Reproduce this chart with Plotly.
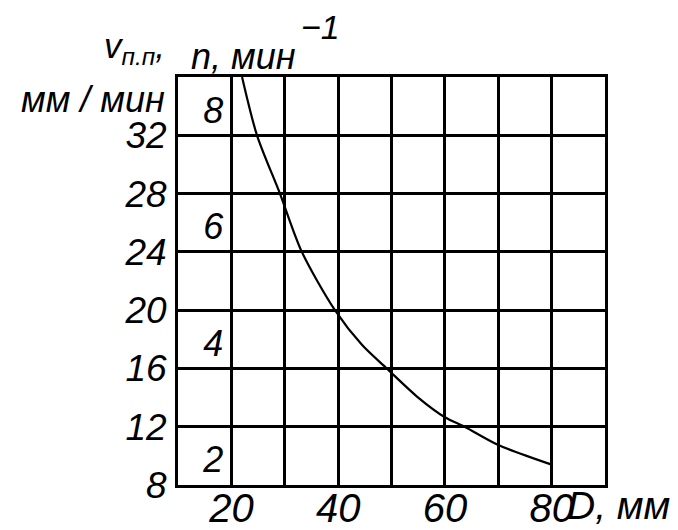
import plotly.graph_objects as go

# Data
D_mm = [22, 24.8, 29.1, 33.2, 39.4, 44.5, 49.1, 55, 60, 63.7, 70, 80]
v_feed = [36, 32, 28, 24, 20, 17.6, 16, 14.0, 12.65, 12, 10.75, 9.4]

x_ticks = [20, 40, 60, 80]
y_ticks = [8, 12, 16, 20, 24, 28, 32]
n_ticks = [2, 4, 6, 8]

FONT = "Liberation Sans, sans-serif"

fig = go.Figure()
fig.add_trace(go.Scatter(
    x=D_mm, y=v_feed, mode="lines",
    line=dict(color="black", width=2.2, shape="spline", smoothing=0.8),
    showlegend=False, hoverinfo="skip",
))
# invisible trace to carry the second (n) axis
fig.add_trace(go.Scatter(x=[D_mm[0]], y=[None], yaxis="y2", mode="lines",
                         showlegend=False, hoverinfo="skip"))

fig.update_layout(
    width=678, height=530,
    margin=dict(l=170, r=81, t=69, b=53, autoexpand=False),
    paper_bgcolor="white", plot_bgcolor="white",
    xaxis=dict(
        range=[10, 90], tickvals=x_ticks, ticks="", automargin=False,
        showgrid=True, gridcolor="black", gridwidth=2.5,
        minor=dict(dtick=10, tick0=10, showgrid=True, gridcolor="black", gridwidth=2.5),
        showline=True, linecolor="black", linewidth=3, mirror=True,
        tickfont=dict(family=FONT, size=40, color="black", style="italic"),
        zeroline=False, ticklabelstandoff=-14,
    ),
    yaxis=dict(
        range=[8, 36], tickvals=y_ticks, ticks="", automargin=False,
        showgrid=True, gridcolor="black", gridwidth=2.5,
        showline=True, linecolor="black", linewidth=3, mirror=True,
        tickfont=dict(family=FONT, size=37, color="black", style="italic"),
        zeroline=False, ticklabelstandoff=1,
    ),
    yaxis2=dict(
        range=[2, 9], tickvals=n_ticks, overlaying="y", anchor="free",
        position=0.05, side="left", ticklabelposition="inside top",
        showgrid=False, showline=False, ticks="", zeroline=False, automargin=False,
        tickfont=dict(family=FONT, size=36, color="black", style="italic"),
    ),
    annotations=[
        dict(text="v<sub>п.п</sub>,", xref="paper", yref="paper",
             x=(167 - 178) / 427, y=(485 - 72) / 408, xanchor="right", yanchor="bottom",
             showarrow=False, font=dict(family=FONT, size=35, color="black", style="italic")),
        dict(text="мм / мин", xref="paper", yref="paper",
             x=(167 - 178) / 427, y=(485 - 99) / 408, xanchor="right", yanchor="middle",
             showarrow=False, font=dict(family=FONT, size=36, color="black", style="italic")),
        dict(text="n, мин", xref="paper", yref="paper",
             x=(189 - 178) / 427, y=(485 - 57) / 408, xanchor="left", yanchor="middle",
             showarrow=False, font=dict(family=FONT, size=36, color="black", style="italic")),
        dict(text="−1", xref="paper", yref="paper",
             x=(299 - 178) / 427, y=(485 - 27) / 408, xanchor="left", yanchor="middle",
             showarrow=False, font=dict(family=FONT, size=34, color="black", style="italic")),
        dict(text="D, мм", xref="paper", yref="paper",
             x=(565 - 178) / 427, y=(485 - 505) / 408, xanchor="left", yanchor="middle",
             showarrow=False, font=dict(family=FONT, size=39, color="black", style="italic")),
    ],
)

fig.write_html("out.html")
